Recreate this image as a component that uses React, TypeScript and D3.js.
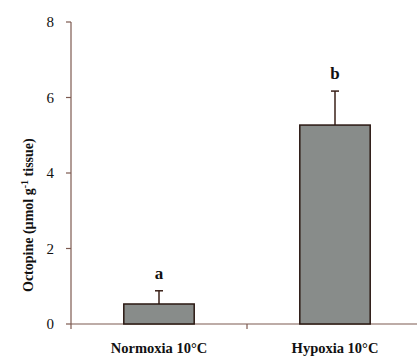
import React, { useEffect, useRef } from "react";
import * as d3 from "d3";

const categories = ["Normoxia 10°C", "Hypoxia 10°C"];
const means = [0.53, 5.27];
const errors = [0.35, 0.9];
const letters = ["a", "b"];
const yTicks = [0, 2, 4, 6, 8];

const App = () => {
  const svgRef = useRef<SVGSVGElement>(null);

  useEffect(() => {
    const width = 417;
    const height = 356;
    const axisColor = "#7d5a50";
    const font = "Liberation Serif";

    const svg = d3.select(svgRef.current).attr("width", width).attr("height", height);
    svg.selectAll("*").remove();

    const x = d3.scaleBand().domain(categories).range([71, 423]).paddingInner(0).paddingOuter(0);
    const y = d3.scaleLinear().domain([0, 8]).range([324, 22]);
    const barW = x.bandwidth() * 0.4;

    // y axis
    svg
      .append("line")
      .attr("x1", 71)
      .attr("x2", 71)
      .attr("y1", y(8))
      .attr("y2", y(0))
      .attr("stroke", axisColor)
      .attr("stroke-width", 1.2);

    const yt = svg.append("g");
    yTicks.forEach((t) => {
      yt.append("line")
        .attr("x1", 66)
        .attr("x2", 71)
        .attr("y1", y(t))
        .attr("y2", y(t))
        .attr("stroke", axisColor)
        .attr("stroke-width", 1.2);
      yt.append("text")
        .attr("x", 54)
        .attr("y", y(t))
        .attr("dy", "0.35em")
        .attr("text-anchor", "end")
        .style("font-family", font)
        .attr("font-size", 15)
        .attr("fill", "#111")
        .text(t);
    });

    // x axis
    svg
      .append("line")
      .attr("x1", 71)
      .attr("x2", width)
      .attr("y1", y(0))
      .attr("y2", y(0))
      .attr("stroke", axisColor)
      .attr("stroke-width", 1.2);

    categories.forEach((c) => {
      svg
        .append("line")
        .attr("x1", x(c)!)
        .attr("x2", x(c)!)
        .attr("y1", y(0))
        .attr("y2", y(0) + 5)
        .attr("stroke", axisColor)
        .attr("stroke-width", 1.2);
    });

    // bars
    const g = svg.append("g");
    categories.forEach((c, i) => {
      const cx = x(c)! + x.bandwidth() / 2;
      // error bar
      g.append("line")
        .attr("x1", cx)
        .attr("x2", cx)
        .attr("y1", y(means[i]))
        .attr("y2", y(means[i] + errors[i]))
        .attr("stroke", "#3a2018")
        .attr("stroke-width", 1.5);
      g.append("line")
        .attr("x1", cx - 4)
        .attr("x2", cx + 4)
        .attr("y1", y(means[i] + errors[i]))
        .attr("y2", y(means[i] + errors[i]))
        .attr("stroke", "#3a2018")
        .attr("stroke-width", 1.5);
      g.append("rect")
        .attr("x", cx - barW / 2)
        .attr("y", y(means[i]))
        .attr("width", barW)
        .attr("height", y(0) - y(means[i]))
        .attr("fill", "#888c8a")
        .attr("stroke", "#2a1812")
        .attr("stroke-width", 1.5);
      g.append("text")
        .attr("x", cx)
        .attr("y", y(means[i] + errors[i]) - 12)
        .attr("text-anchor", "middle")
        .style("font-family", font)
        .attr("font-weight", "bold")
        .attr("font-size", 17)
        .attr("fill", "#111")
        .text(letters[i]);
      g.append("text")
        .attr("x", cx)
        .attr("y", 353)
        .attr("text-anchor", "middle")
        .style("font-family", font)
        .attr("font-weight", "bold")
        .attr("font-size", 14.5)
        .attr("fill", "#111")
        .text(c);
    });

    // y label, starting near the bottom of the axis
    const lbl = svg
      .append("text")
      .attr("transform", "translate(33,292) rotate(-90)")
      .attr("text-anchor", "start")
      .style("font-family", font)
      .attr("font-weight", "bold")
      .attr("font-size", 14)
      .attr("fill", "#111");
    lbl.append("tspan").text("Octopine (µmol g");
    lbl.append("tspan").attr("baseline-shift", "super").attr("font-size", 10).text("-1");
    lbl.append("tspan").text(" tissue)");
  }, []);

  return (
    <div style={{ position: "absolute", top: 0, left: 0 }}>
      <svg ref={svgRef}></svg>
    </div>
  );
};

export default App;
